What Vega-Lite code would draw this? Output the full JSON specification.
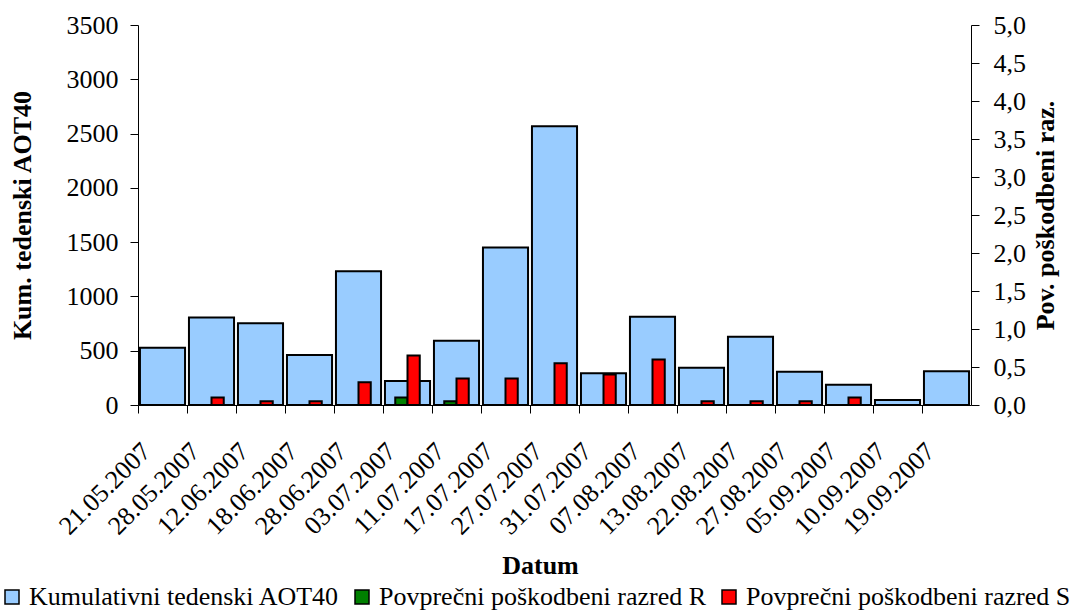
{
  "$schema": "https://vega.github.io/schema/vega-lite/v6.json",
  "autosize": {"type": "none"},
  "padding": {"left": 138, "top": 25, "right": 115, "bottom": 207},
  "width": 833,
  "height": 380,
  "background": "white",
  "config": {
    "view": {"stroke": null},
    "font": "Liberation Serif, Times New Roman, Times, serif",
    "axis": {
      "labelFont": "Liberation Serif, Times New Roman, Times, serif",
      "labelFontSize": 26,
      "labelColor": "black",
      "titleFont": "Liberation Serif, Times New Roman, Times, serif",
      "titleFontSize": 26,
      "titleFontWeight": "bold",
      "titleColor": "black",
      "domainColor": "black",
      "domainWidth": 1,
      "tickColor": "black",
      "tickSize": 8,
      "grid": false
    },
    "legend": {
      "labelFont": "Liberation Serif, Times New Roman, Times, serif",
      "labelFontSize": 26,
      "labelColor": "black",
      "labelLimit": 0
    }
  },
  "data": {
    "values": [
      {"datum": "21.05.2007", "serija": "Kumulativni tedenski AOT40", "vrednost": 528},
      {"datum": "28.05.2007", "serija": "Kumulativni tedenski AOT40", "vrednost": 805},
      {"datum": "12.06.2007", "serija": "Kumulativni tedenski AOT40", "vrednost": 752},
      {"datum": "18.06.2007", "serija": "Kumulativni tedenski AOT40", "vrednost": 460},
      {"datum": "28.06.2007", "serija": "Kumulativni tedenski AOT40", "vrednost": 1232},
      {"datum": "03.07.2007", "serija": "Kumulativni tedenski AOT40", "vrednost": 222},
      {"datum": "11.07.2007", "serija": "Kumulativni tedenski AOT40", "vrednost": 591},
      {"datum": "17.07.2007", "serija": "Kumulativni tedenski AOT40", "vrednost": 1450},
      {"datum": "27.07.2007", "serija": "Kumulativni tedenski AOT40", "vrednost": 2567},
      {"datum": "31.07.2007", "serija": "Kumulativni tedenski AOT40", "vrednost": 293},
      {"datum": "07.08.2007", "serija": "Kumulativni tedenski AOT40", "vrednost": 812},
      {"datum": "13.08.2007", "serija": "Kumulativni tedenski AOT40", "vrednost": 342},
      {"datum": "22.08.2007", "serija": "Kumulativni tedenski AOT40", "vrednost": 628},
      {"datum": "27.08.2007", "serija": "Kumulativni tedenski AOT40", "vrednost": 306},
      {"datum": "05.09.2007", "serija": "Kumulativni tedenski AOT40", "vrednost": 187},
      {"datum": "10.09.2007", "serija": "Kumulativni tedenski AOT40", "vrednost": 46},
      {"datum": "19.09.2007", "serija": "Kumulativni tedenski AOT40", "vrednost": 312},
      {"datum": "28.05.2007", "serija": "Povprečni poškodbeni razred S", "vrednost": 0.1},
      {"datum": "12.06.2007", "serija": "Povprečni poškodbeni razred S", "vrednost": 0.05},
      {"datum": "18.06.2007", "serija": "Povprečni poškodbeni razred S", "vrednost": 0.05},
      {"datum": "28.06.2007", "serija": "Povprečni poškodbeni razred S", "vrednost": 0.3},
      {"datum": "03.07.2007", "serija": "Povprečni poškodbeni razred R", "vrednost": 0.1},
      {"datum": "03.07.2007", "serija": "Povprečni poškodbeni razred S", "vrednost": 0.65},
      {"datum": "11.07.2007", "serija": "Povprečni poškodbeni razred R", "vrednost": 0.05},
      {"datum": "11.07.2007", "serija": "Povprečni poškodbeni razred S", "vrednost": 0.35},
      {"datum": "17.07.2007", "serija": "Povprečni poškodbeni razred S", "vrednost": 0.35},
      {"datum": "27.07.2007", "serija": "Povprečni poškodbeni razred S", "vrednost": 0.55},
      {"datum": "31.07.2007", "serija": "Povprečni poškodbeni razred S", "vrednost": 0.4},
      {"datum": "07.08.2007", "serija": "Povprečni poškodbeni razred S", "vrednost": 0.6},
      {"datum": "13.08.2007", "serija": "Povprečni poškodbeni razred S", "vrednost": 0.05},
      {"datum": "22.08.2007", "serija": "Povprečni poškodbeni razred S", "vrednost": 0.05},
      {"datum": "27.08.2007", "serija": "Povprečni poškodbeni razred S", "vrednost": 0.05},
      {"datum": "05.09.2007", "serija": "Povprečni poškodbeni razred S", "vrednost": 0.1}
    ]
  },
  "encoding": {
    "x": {
      "field": "datum",
      "type": "nominal",
      "sort": null,
      "scale": {"paddingInner": 0, "paddingOuter": 0},
      "axis": {
        "title": "Datum",
        "bandPosition": 0,
        "labelAngle": -45,
        "labelAlign": "right",
        "labelBaseline": "middle",
        "labelPadding": 34,
        "labelOffset": -16,
        "titleX": 402,
        "titleY": 160,
        "titleBaseline": "middle",
        "titleAnchor": "middle"
      }
    },
    "color": {
      "field": "serija",
      "type": "nominal",
      "scale": {
        "domain": ["Kumulativni tedenski AOT40", "Povprečni poškodbeni razred R", "Povprečni poškodbeni razred S"],
        "range": ["#99CCFF", "#008000", "#FF0000"]
      },
      "legend": {
        "title": null,
        "orient": "none",
        "direction": "horizontal",
        "legendX": -139,
        "legendY": 559,
        "padding": 0,
        "symbolType": "square",
        "symbolSize": 196,
        "symbolOpacity": 1,
        "labelOffset": 4,
        "columnPadding": 9,
        "encode": {
          "symbols": {"update": {"stroke": {"value": "black"}, "strokeWidth": {"value": 2}}}
        }
      }
    }
  },
  "layer": [
    {
      "transform": [{"filter": "datum.serija == 'Kumulativni tedenski AOT40'"}],
      "mark": {"type": "bar", "stroke": "black", "strokeWidth": 2, "width": {"band": 0.92}, "opacity": 1},
      "encoding": {
        "y": {
          "field": "vrednost",
          "type": "quantitative",
          "scale": {"domain": [0, 3500], "nice": false},
          "axis": {
            "title": "Kum. tedenski AOT40",
            "values": [0, 500, 1000, 1500, 2000, 2500, 3000, 3500],
            "format": "d",
            "labelPadding": 12,
            "titleX": -116,
            "titleBaseline": "middle"
          }
        }
      }
    },
    {
      "transform": [{"filter": "datum.serija != 'Kumulativni tedenski AOT40'"}],
      "mark": {"type": "bar", "stroke": "black", "strokeWidth": 2, "opacity": 1},
      "encoding": {
        "xOffset": {
          "field": "serija",
          "type": "nominal",
          "scale": {"domain": ["Povprečni poškodbeni razred R", "Povprečni poškodbeni razred S"], "paddingInner": 0, "paddingOuter": 1.04}
        },
        "y": {
          "field": "vrednost",
          "type": "quantitative",
          "scale": {"domain": [0, 5], "nice": false},
          "axis": {
            "orient": "right",
            "title": "Pov. poškodbeni raz.",
            "values": [0, 0.5, 1, 1.5, 2, 2.5, 3, 3.5, 4, 4.5, 5],
            "labelExpr": "replace(format(datum.value, '.1f'), '.', ',')",
            "labelPadding": 14,
            "titleAngle": 270,
            "titleX": 74,
            "titleBaseline": "middle"
          }
        }
      }
    }
  ],
  "resolve": {"scale": {"y": "independent"}, "axis": {"y": "independent"}}
}
